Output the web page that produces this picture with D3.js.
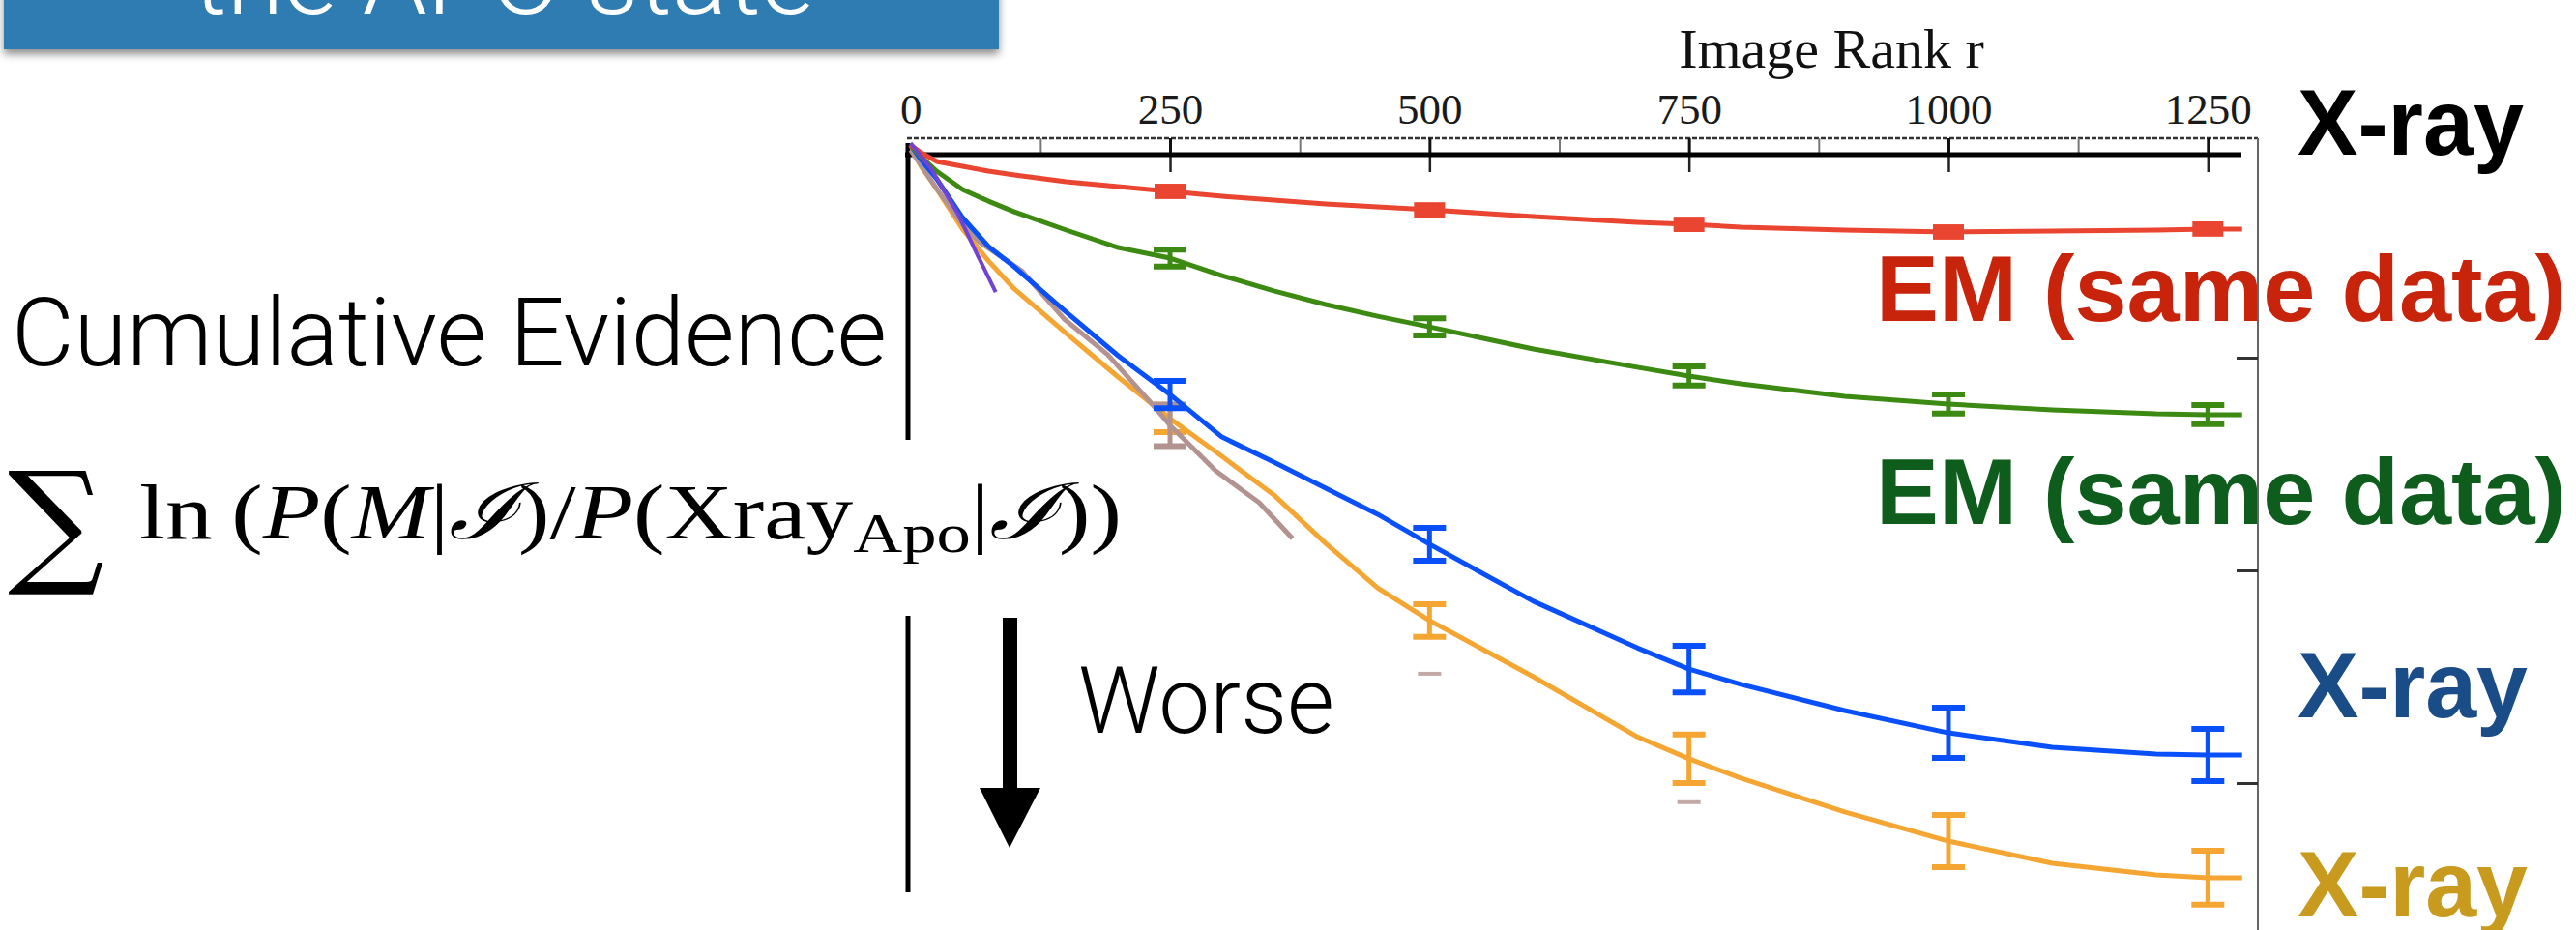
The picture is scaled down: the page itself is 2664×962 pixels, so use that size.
<!DOCTYPE html>
<html>
<head>
<meta charset="utf-8">
<script src="https://cdn.jsdelivr.net/npm/d3@7"></script>
<style>
  body { margin: 0; background: #fff; }
  svg { display: block; }
</style>
</head>
<body>
<div id="chart"></div>
<script>
// image rank grid shared by the four main curves
var ranks = [0, 10, 25, 50, 75, 100, 150, 200, 250, 300, 350, 400, 450, 500, 600, 700, 750, 800, 900, 1000, 1100, 1200, 1250, 1283];

// cumulative evidence (arbitrary units, 0 at the top)
var emRed   = [0, -3.6, -7.7, -10, -12.3, -14.1, -17.3, -19.5, -21.8, -24.1, -25.9, -27.7, -29.1, -30.5, -33.6, -36.4, -37.3, -38.6, -40, -40.9, -40.5, -40, -39.5, -39.5];
var emGreen = [0, -5.5, -12.3, -20.9, -26.4, -31.4, -40, -48.2, -53.2, -61.4, -68.6, -75, -80.5, -85.5, -95.9, -104.5, -108.6, -112.3, -118.2, -121.8, -124.5, -126.4, -126.8, -126.8];
var xrayBlue = [0, -6.8, -15.9, -34.1, -47.7, -57.3, -78.6, -99.1, -117.3, -137.3, -149.1, -161.4, -173.6, -187.7, -214.5, -236.4, -246.4, -253.6, -265.9, -276.4, -283.2, -286.4, -286.8, -286.8];
var xrayGold = [0, -10, -20.5, -39.5, -54.5, -67.7, -88.6, -109.1, -128.6, -146.4, -164.5, -187.3, -208.2, -223.6, -250, -278.2, -288.6, -297.7, -313.6, -327.3, -337.7, -343.2, -344.5, -344.5];

// short curves that stop early
var brownRanks = [0, 25, 50, 66, 107, 148, 190, 232, 250, 294, 336, 368];
var brownVals  = [-2.3, -20.5, -37.3, -45.5, -59.1, -81.8, -98.6, -121.4, -131.8, -153.2, -168.2, -185];
var purpleRanks = [0, 20, 45, 65, 82];
var purpleVals  = [0.9, -11.4, -31.8, -52.3, -69.1];

// error bars
var barRanks = [250, 500, 750, 1000, 1250];
var redErr   = [3.6, 3.6, 3.6, 3.6, 3.6];
var greenErr = [4, 4, 4.5, 4.5, 4.5];
var blueErr  = [6.4, 7.7, 11, 11.8, 12.3];
var goldErr  = [6.4, 7.7, 11.4, 12.3, 12.7];
var brownBarRank = 250, brownBarErr = 9.8;
var brownCapRanks = [500, 750];
var brownCapVals  = [-248.6, -309];

var xTicks = [0, 250, 500, 750, 1000, 1250];
var xMinor = [125, 375, 625, 875, 1125];
var yTicks = [-100, -200, -300];

var W = 2664, H = 962;

var svg = d3.select("#chart").append("svg")
    .attr("width", W).attr("height", H);

var defs = svg.append("defs");
var f = defs.append("filter").attr("id", "shadow")
    .attr("x", "-5%").attr("y", "-50%").attr("width", "110%").attr("height", "200%");
f.append("feDropShadow").attr("dx", 0).attr("dy", 5).attr("stdDeviation", 4)
    .attr("flood-color", "#000").attr("flood-opacity", 0.45);

// scales
var x = d3.scaleLinear().domain([0, 1250]).range([941.7, 2283.3]);
var y = d3.scaleLinear().domain([0, -300]).range([150, 810]);

// title box, mostly cut off at the top
svg.append("rect")
    .attr("x", 4).attr("y", -20).attr("width", 1029).attr("height", 71)
    .attr("fill", "#2f7cb1")
    .attr("filter", "url(#shadow)");
svg.append("text")
    .attr("x", 200).attr("y", 14)
    .attr("textLength", 642).attr("lengthAdjust", "spacingAndGlyphs")
    .attr("font-family", "Roboto, 'Open Sans', sans-serif")
    .attr("font-weight", 300)
    .attr("font-size", 100)
    .attr("fill", "#fff")
    .text("the APO state");

// x axis band at the top
svg.append("line")
    .attr("x1", 938).attr("x2", 2335).attr("y1", 143).attr("y2", 143)
    .attr("stroke", "#333").attr("stroke-width", 2.5).attr("stroke-dasharray", "5,2");
svg.append("g")
    .attr("transform", "translate(0,143)")
    .call(d3.axisBottom(x).tickValues(xTicks.slice(1).concat(xMinor)).tickSize(17).tickFormat(""))
    .call(function (g) {
        g.select(".domain").remove();
        g.selectAll(".tick line")
            .attr("stroke", function (d) { return xMinor.indexOf(d) >= 0 ? "#777" : "#111"; })
            .attr("stroke-width", function (d) { return xMinor.indexOf(d) >= 0 ? 2 : 3; });
    });
svg.append("g")
    .attr("transform", "translate(0,160)")
    .call(d3.axisBottom(x).tickValues(xTicks.slice(1)).tickSize(18).tickFormat(""))
    .call(function (g) {
        g.select(".domain").remove();
        g.selectAll(".tick line").attr("stroke", "#222").attr("stroke-width", 2.5);
    });
svg.append("line")
    .attr("x1", 936).attr("x2", 2318).attr("y1", 160).attr("y2", 160)
    .attr("stroke", "#000").attr("stroke-width", 5);

// tick labels
svg.append("g")
    .attr("transform", "translate(0,143)")
    .call(d3.axisTop(x).tickValues(xTicks).tickSize(0).tickPadding(15).tickFormat(d3.format("d")))
    .call(function (g) {
        g.select(".domain").remove();
        g.selectAll("text")
            .attr("font-family", "'Liberation Serif', 'Times New Roman', serif")
            .attr("font-size", 45)
            .attr("fill", "#1a1a1a");
    });

svg.append("text")
    .attr("x", 1894).attr("y", 70)
    .attr("text-anchor", "middle")
    .attr("font-family", "'Liberation Serif', 'Times New Roman', serif")
    .attr("font-size", 58)
    .attr("fill", "#111")
    .text("Image Rank r");

// left axis
svg.append("line")
    .attr("x1", 939).attr("x2", 939).attr("y1", 148).attr("y2", 923)
    .attr("stroke", "#000").attr("stroke-width", 5);

// curves
var line = d3.line()
    .x(function (d) { return x(d[0]); })
    .y(function (d) { return y(d[1]); });

function pairs(xs, vs) {
    return xs.map(function (r, i) { return [r, vs[i]]; });
}

function valueAt(vs, r) {
    return vs[ranks.indexOf(r)];
}

function drawCurve(data, color, width) {
    svg.append("path")
        .datum(data)
        .attr("fill", "none")
        .attr("stroke", color)
        .attr("stroke-width", width)
        .attr("stroke-linejoin", "round")
        .attr("d", line);
}

function drawBars(vs, errs, color) {
    var g = svg.append("g").attr("stroke", color).attr("fill", "none");
    barRanks.forEach(function (r, i) {
        var cx = x(r), v = valueAt(vs, r);
        var top = y(v + errs[i]), bot = y(v - errs[i]);
        g.append("line").attr("x1", cx).attr("x2", cx).attr("y1", top).attr("y2", bot).attr("stroke-width", 5);
        g.append("line").attr("x1", cx - 17).attr("x2", cx + 17).attr("y1", top).attr("y2", top).attr("stroke-width", 6);
        g.append("line").attr("x1", cx - 17).attr("x2", cx + 17).attr("y1", bot).attr("y2", bot).attr("stroke-width", 6);
    });
}

drawCurve(pairs(ranks, xrayGold), "#f5a632", 5);
drawBars(xrayGold, goldErr, "#f5a632");

drawCurve(pairs(brownRanks, brownVals), "#b3938f", 5);
(function () {
    var cx = x(brownBarRank), v = brownVals[brownRanks.indexOf(brownBarRank)];
    var g = svg.append("g").attr("stroke", "#b3938f");
    g.append("line").attr("x1", cx).attr("x2", cx).attr("y1", y(v + brownBarErr)).attr("y2", y(v - brownBarErr)).attr("stroke-width", 5);
    g.append("line").attr("x1", cx - 17).attr("x2", cx + 17).attr("y1", y(v + brownBarErr)).attr("y2", y(v + brownBarErr)).attr("stroke-width", 6);
    g.append("line").attr("x1", cx - 17).attr("x2", cx + 17).attr("y1", y(v - brownBarErr)).attr("y2", y(v - brownBarErr)).attr("stroke-width", 6);
    brownCapRanks.forEach(function (r, i) {
        g.append("line").attr("x1", x(r) - 12).attr("x2", x(r) + 12)
            .attr("y1", y(brownCapVals[i])).attr("y2", y(brownCapVals[i]))
            .attr("stroke-width", 4).attr("stroke-opacity", 0.8);
    });
})();

drawCurve(pairs(ranks, xrayBlue), "#0a50fa", 5);
drawBars(xrayBlue, blueErr, "#0a50fa");

drawCurve(pairs(ranks, emGreen), "#3c8a12", 5);
drawBars(emGreen, greenErr, "#3c8a12");

drawCurve(pairs(ranks, emRed), "#ea4530", 5);
svg.append("g").selectAll("rect")
    .data(barRanks)
    .enter().append("rect")
    .attr("x", function (r) { return x(r) - 16; })
    .attr("y", function (r, i) { return y(valueAt(emRed, r) + redErr[i]); })
    .attr("width", 32)
    .attr("height", function (r, i) { return y(valueAt(emRed, r) - redErr[i]) - y(valueAt(emRed, r) + redErr[i]); })
    .attr("fill", "#ea4530");

drawCurve(pairs(purpleRanks, purpleVals), "#7043d2", 4);

// left labels
svg.append("text")
    .attr("x", 12).attr("y", 378)
    .attr("textLength", 905).attr("lengthAdjust", "spacingAndGlyphs")
    .attr("font-family", "Roboto, 'Open Sans', sans-serif")
    .attr("font-weight", 300)
    .attr("font-size", 98)
    .attr("fill", "#000")
    .text("Cumulative Evidence");

// formula sits on a white card that hides the axis behind it
svg.append("rect")
    .attr("x", 0).attr("y", 455).attr("width", 1175).attr("height", 182)
    .attr("fill", "#fff");
svg.append("text")
    .attr("x", 8).attr("y", 588)
    .attr("font-family", "'DejaVu Serif', 'Liberation Serif', serif")
    .attr("font-size", 140)
    .attr("fill", "#000")
    .text("\u2211");
var fm = svg.append("text")
    .attr("x", 144).attr("y", 557)
    .attr("textLength", 1016).attr("lengthAdjust", "spacingAndGlyphs")
    .attr("font-family", "'Liberation Serif', 'Times New Roman', serif")
    .attr("font-size", 80)
    .attr("fill", "#000");
fm.append("tspan").text("ln\u2009(");
fm.append("tspan").attr("font-style", "italic").text("P");
fm.append("tspan").text("(");
fm.append("tspan").attr("font-style", "italic").text("M");
fm.append("tspan").text("|");
fm.append("tspan").attr("font-style", "italic").text("\u2110");
fm.append("tspan").text(")/");
fm.append("tspan").attr("font-style", "italic").text("P");
fm.append("tspan").text("(Xray");
fm.append("tspan").attr("font-size", 58).attr("dy", 14).text("Apo");
fm.append("tspan").attr("dy", -14).text("|");
fm.append("tspan").attr("font-style", "italic").text("\u2110");
fm.append("tspan").text("))");

// worse arrow
svg.append("path")
    .attr("d", "M1037,639 L1052,639 L1052,815 L1076,815 L1044,877 L1013,815 L1037,815 Z")
    .attr("fill", "#000");
svg.append("text")
    .attr("x", 1115).attr("y", 758)
    .attr("textLength", 265).attr("lengthAdjust", "spacingAndGlyphs")
    .attr("font-family", "Roboto, 'Open Sans', sans-serif")
    .attr("font-weight", 300)
    .attr("font-size", 97)
    .attr("fill", "#000")
    .text("Worse");

// right-hand labels
var labels = [
    { text: "X-ray", x: 2376, y: 160, w: 234, color: "#000000" },
    { text: "EM (same data)", x: 1940, y: 332, w: 714, color: "#c8240c" },
    { text: "EM (same data)", x: 1940, y: 542, w: 714, color: "#0f5d1c" },
    { text: "X-ray", x: 2376, y: 742, w: 238, color: "#1a4c88" },
    { text: "X-ray", x: 2376, y: 948, w: 238, color: "#c89a1e" }
];
svg.append("g").selectAll("text")
    .data(labels)
    .enter().append("text")
    .attr("x", function (d) { return d.x; })
    .attr("y", function (d) { return d.y; })
    .attr("textLength", function (d) { return d.w; })
    .attr("lengthAdjust", "spacingAndGlyphs")
    .attr("font-family", "'Liberation Sans Narrow', 'Liberation Sans', Arial, sans-serif")
    .attr("font-weight", "bold")
    .attr("font-size", 96)
    .attr("fill", function (d) { return d.color; })
    .text(function (d) { return d.text; });

// right frame with y ticks
svg.append("line")
    .attr("x1", 2335).attr("x2", 2335).attr("y1", 143).attr("y2", H)
    .attr("stroke", "#666").attr("stroke-width", 2);
svg.append("g")
    .attr("transform", "translate(2335,0)")
    .call(d3.axisLeft(y).tickValues(yTicks).tickSize(22).tickFormat(""))
    .call(function (g) {
        g.select(".domain").remove();
        g.selectAll(".tick line").attr("stroke", "#333").attr("stroke-width", 3);
    });
</script>
</body>
</html>
